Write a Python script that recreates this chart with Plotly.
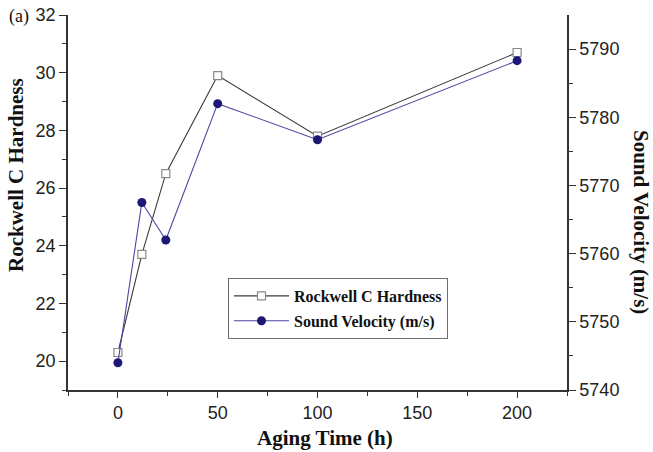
import plotly.graph_objects as go

# Data
aging_time = [0, 12, 24, 50, 100, 200]
hardness = [20.3, 23.7, 26.5, 29.9, 27.8, 30.7]
velocity = [5744.0, 5767.5, 5762.0, 5782.0, 5776.7, 5788.3]

x_ticks = [0, 50, 100, 150, 200]
x_minor = [-25, 25, 75, 125, 175, 225]
left_ticks = [20, 22, 24, 26, 28, 30, 32]
left_minor = [19, 21, 23, 25, 27, 29, 31]
right_ticks = [5740, 5750, 5760, 5770, 5780, 5790]
right_minor = [5745, 5755, 5765, 5775, 5785]

W, H = 653, 452
L, R, T, B = 68, 86, 15, 62
PW, PH = W - L - R, H - T - B

def px(x):
    return (x - L) / PW

def py(y):
    return (H - B - y) / PH

serif = "Liberation Serif, Times New Roman, serif"
sans = "Liberation Sans, Arial, sans-serif"
axis_col = "#333333"
tick_font = dict(family=sans, size=18, color="#222222")

fig = go.Figure()
fig.add_trace(go.Scatter(
    x=aging_time, y=hardness, name="Rockwell C Hardness",
    mode="lines+markers", legendgroup="a",
    line=dict(color="#3a3a3a", width=1.1),
    marker=dict(symbol="square", size=8, color="white",
                line=dict(color="#8a8a8a", width=1.2)),
    yaxis="y", xaxis="x",
))
fig.add_trace(go.Scatter(
    x=aging_time, y=velocity, name="Sound Velocity (m/s)",
    mode="lines+markers", legendgroup="b",
    line=dict(color="#4a45a3", width=1.1),
    marker=dict(symbol="circle", size=9, color="#1d1875"),
    yaxis="y2", xaxis="x",
))

fig.update_layout(
    width=W, height=H,
    margin=dict(l=L, r=R, t=T, b=B, autoexpand=False),
    paper_bgcolor="white", plot_bgcolor="white",
    showlegend=True,
    legend=dict(
        x=px(228), y=py(278), xanchor="left", yanchor="top",
        bordercolor="#6e6e6e", borderwidth=1, bgcolor="white",
        font=dict(family=serif, size=16, color="#111111", weight="bold"),
        traceorder="grouped", tracegroupgap=1,
        itemwidth=55,
    ),
    xaxis=dict(
        range=[-25, 225], tickvals=x_ticks, ticks="outside", ticklen=6,
        tickwidth=1.3, tickcolor=axis_col,
        showline=True, linecolor=axis_col, linewidth=1.5,
        showgrid=False, zeroline=False, tickfont=tick_font,
        minor=dict(tickvals=x_minor, ticks="outside", ticklen=4,
                   tickcolor=axis_col, tickwidth=1.2, showgrid=False),
    ),
    xaxis2=dict(
        range=[-25, 225], overlaying="x", side="top", anchor="y",
        tickvals=x_ticks, ticks="inside", ticklen=6, tickwidth=1.3,
        tickcolor=axis_col, showticklabels=False,
        showline=True, linecolor=axis_col, linewidth=1.5,
        showgrid=False, zeroline=False,
        minor=dict(tickvals=x_minor, ticks="inside", ticklen=4,
                   tickcolor=axis_col, tickwidth=1.2, showgrid=False),
    ),
    yaxis=dict(
        range=[19, 32], tickvals=left_ticks, ticks="outside", ticklen=7,
        tickwidth=1.3, tickcolor=axis_col,
        showline=True, linecolor=axis_col, linewidth=1.5,
        showgrid=False, zeroline=False, tickfont=tick_font,
        minor=dict(tickvals=left_minor, ticks="outside", ticklen=4,
                   tickcolor=axis_col, tickwidth=1.2, showgrid=False),
    ),
    yaxis2=dict(
        range=[5740, 5795], overlaying="y", side="right", anchor="x",
        tickvals=right_ticks, ticks="outside", ticklen=7, tickwidth=1.3,
        tickcolor=axis_col,
        showline=True, linecolor=axis_col, linewidth=1.5,
        showgrid=False, zeroline=False, tickfont=tick_font,
        minor=dict(tickvals=right_minor, ticks="outside", ticklen=4,
                   tickcolor=axis_col, tickwidth=1.2, showgrid=False),
    ),
)

ann_font = dict(family=serif, size=21, color="#111111")
fig.add_annotation(text="<b>Rockwell C Hardness</b>", xref="paper", yref="paper",
                   x=px(16), y=py(175), textangle=-90, showarrow=False,
                   xanchor="center", yanchor="middle", font=ann_font)
fig.add_annotation(text="<b>Sound Velocity (m/s)</b>", xref="paper", yref="paper",
                   x=px(641), y=py(222), textangle=90, showarrow=False,
                   xanchor="center", yanchor="middle", font=ann_font)
fig.add_annotation(text="<b>Aging Time (h)</b>", xref="paper", yref="paper",
                   x=px(325), y=py(438), showarrow=False,
                   xanchor="center", yanchor="middle", font=ann_font)
fig.add_annotation(text="(a)", xref="paper", yref="paper",
                   x=px(19), y=py(16), showarrow=False,
                   xanchor="center", yanchor="middle",
                   font=dict(family=serif, size=18, color="#111111"))

fig.write_html("out.html")
